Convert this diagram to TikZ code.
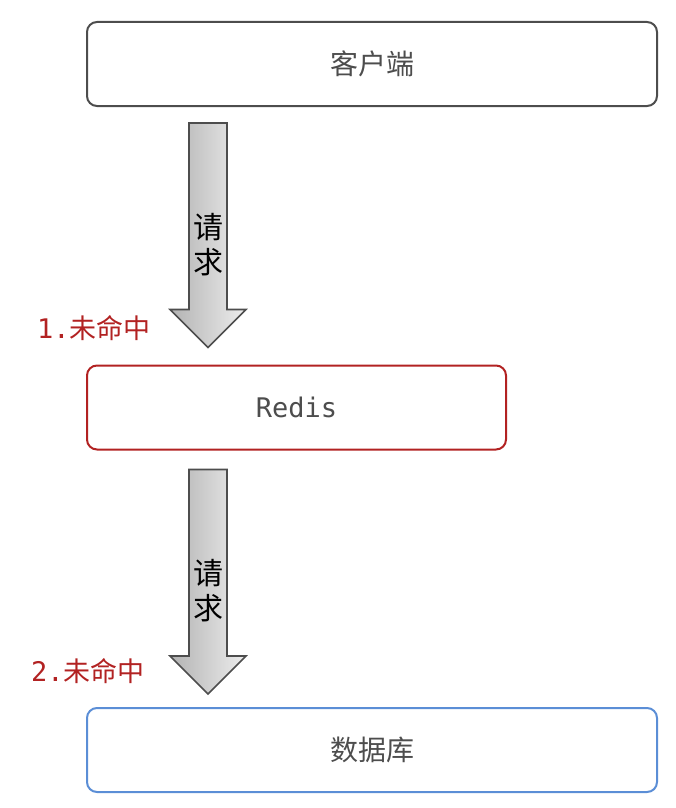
\documentclass[tikz,border=0pt]{standalone}
\usepackage{fontspec}
\setmonofont{DejaVu Sans Mono}
\newfontfamily\cjk{Noto Sans CJK SC}
\usetikzlibrary{calc}
\definecolor{edge}{HTML}{4D4D4D}
\definecolor{miss}{HTML}{B22222}
\definecolor{store}{HTML}{5B8ED6}
\definecolor{ink}{HTML}{4D4D4D}
\tikzset{
  box/.style     = {draw=edge, rounded corners=10pt, line width=2pt, minimum height=84pt,
                    inner sep=0pt, text=ink, font=\fontsize{28}{32}\selectfont\cjk},
  req/.style     = {draw=edge, line width=1.6pt, left color=black!30, right color=black!7},
  reqtxt/.style  = {font=\fontsize{30}{35}\selectfont\cjk, align=center, inner sep=0pt},
  misslbl/.style = {text=miss, font=\fontsize{27}{31}\selectfont, inner sep=0pt},
}
\newcommand{\reqarrow}[2]{%
  \shade[req] ($(#1)+(-19,0)$) -- ($(#1)+(19,0)$) -- ($(#2)+(19,-38)$) -- ($(#2)+(38,-38)$)
    -- (#2) -- ($(#2)+(-38,-38)$) -- ($(#2)+(-19,-38)$) -- cycle;}
\begin{document}
\begin{tikzpicture}[x=1pt,y=-1pt]
  \useasboundingbox (0,0) rectangle (675,808);
  \node[box, minimum width=570pt] (client) at (372,64) {客户端};
  \node[box, minimum width=419pt, draw=miss, font=\fontsize{27}{31}\selectfont\ttfamily] (redis) at (296.5,407.5) {Redis};
  \node[box, minimum width=570pt, draw=store] (db) at (372,750) {数据库};
  % request arrows
  \coordinate (q1) at ($(client.south west)+(122,16)$);
  \coordinate (t1) at ($(redis.north west)+(122,-17)$);
  \coordinate (q2) at ($(redis.south west)+(122,19)$);
  \coordinate (t2) at ($(db.north west)+(122,-13)$);
  \reqarrow{q1}{t1}
  \reqarrow{q2}{t2}
  \node[reqtxt] (req1) at ($(q1)!0.54!(t1)$) {请\\求};
  \node[reqtxt] (req2) at ($(q2)!0.54!(t2)$) {请\\求};
  \node[misslbl] (miss1) at (94,328) {\texttt{1.}\cjk 未命中};
  \node[misslbl] (miss2) at (88,671) {\texttt{2.}\cjk 未命中};
\end{tikzpicture}
\end{document}
